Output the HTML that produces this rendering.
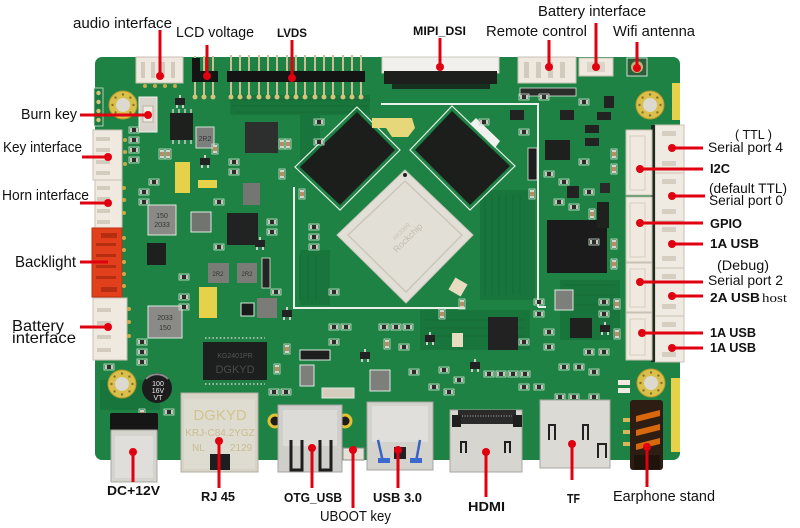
<!DOCTYPE html>
<html><head><meta charset="utf-8"><style>
html,body{margin:0;padding:0;background:#fff;}
svg{display:block;}
text{font-family:"Liberation Sans",Arial,sans-serif;fill:#111;}
.b{font-weight:bold;}
</style></head><body>
<svg width="800" height="528" viewBox="0 0 800 528" xmlns="http://www.w3.org/2000/svg">
<defs>
<g id="r"><rect x="-1" y="-1" width="10" height="6" fill="none" stroke="#cfe3d2" stroke-width="0.8"/><rect x="0" y="0" width="8" height="4" fill="#2b2d2b"/><rect x="0" y="0" width="2" height="4" fill="#c9c6bd"/><rect x="6" y="0" width="2" height="4" fill="#c9c6bd"/></g>
<g id="c"><rect x="-1" y="-1" width="6" height="10" fill="none" stroke="#cfe3d2" stroke-width="0.8"/><rect x="0" y="0" width="4" height="8" fill="#b98c66"/><rect x="0" y="0" width="4" height="2" fill="#d6d3ca"/><rect x="0" y="6" width="4" height="2" fill="#d6d3ca"/></g>
<g id="s"><rect x="0" y="0" width="10" height="7" fill="#222"/><rect x="1" y="7" width="2" height="3" fill="#ccc"/><rect x="7" y="7" width="2" height="3" fill="#ccc"/><rect x="4" y="-3" width="2" height="3" fill="#ccc"/></g>
<g id="hole"><circle r="14" fill="#d9bf4c"/><circle r="14" fill="none" stroke="#b89a2a" stroke-width="1"/><circle r="7" fill="#dcd9d0"/>
<circle cx="0" cy="-10.5" r="1.2" fill="#8a7020"/><circle cx="0" cy="10.5" r="1.2" fill="#8a7020"/><circle cx="-10.5" cy="0" r="1.2" fill="#8a7020"/><circle cx="10.5" cy="0" r="1.2" fill="#8a7020"/><circle cx="7.4" cy="7.4" r="1.2" fill="#8a7020"/><circle cx="-7.4" cy="7.4" r="1.2" fill="#8a7020"/><circle cx="7.4" cy="-7.4" r="1.2" fill="#8a7020"/><circle cx="-7.4" cy="-7.4" r="1.2" fill="#8a7020"/></g>
</defs>
<rect width="800" height="528" fill="#fff"/>

<!-- board -->
<rect x="95" y="57" width="585" height="403" rx="7" fill="#1d8244"/>
<!-- darker trace areas -->
<g fill="#18763d">
<rect x="230" y="95" width="140" height="20"/>
<rect x="480" y="190" width="55" height="110"/>
<rect x="300" y="250" width="30" height="55"/>
<rect x="420" y="310" width="110" height="40"/>
<rect x="100" y="380" width="60" height="30"/>
<rect x="300" y="115" width="20" height="60"/>
<rect x="560" y="280" width="60" height="60"/>
</g>
<g stroke="#146c37" stroke-width="1.2" fill="none">
<path d="M230 100 H370 M232 106 H368 M235 112 H365"/>
<path d="M485 195 V295 M492 195 V295 M499 195 V295 M506 195 V295 M513 195 V295 M520 195 V295"/>
<path d="M425 320 H525 M425 328 H525 M425 336 H525"/>
<path d="M300 255 V300 M308 255 V300 M316 255 V300"/>
<path d="M565 285 H615 M565 295 H615 M565 305 H615"/>
</g>

<!-- mounting holes -->
<use href="#hole" x="123" y="105"/>
<use href="#hole" x="650" y="105"/>
<use href="#hole" x="122" y="384"/>
<use href="#hole" x="651" y="383"/>

<!-- yellow strips -->
<rect x="672" y="83" width="8" height="37" fill="#e6d24a"/>
<rect x="671" y="378" width="9" height="74" fill="#e6d24a"/>

<!-- top: audio connector -->
<rect x="136" y="57" width="47" height="26" fill="#eee8de" stroke="#c9c1b3"/>
<g fill="#d2cabc"><rect x="141" y="62" width="4" height="16"/><rect x="151" y="62" width="4" height="16"/><rect x="161" y="62" width="4" height="16"/><rect x="171" y="62" width="4" height="16"/></g>
<g fill="#caa94a"><circle cx="145" cy="86" r="2"/><circle cx="155" cy="86" r="2"/><circle cx="165" cy="86" r="2"/><circle cx="175" cy="86" r="2"/></g>

<!-- LCD voltage header -->
<g stroke="#cdbf95" stroke-width="2">
<line x1="195" y1="56" x2="195" y2="97"/><line x1="204" y1="56" x2="204" y2="97"/><line x1="213" y1="56" x2="213" y2="97"/>
</g>
<rect x="192" y="71" width="26" height="11" fill="#141414"/>
<rect x="192" y="58" width="8" height="14" fill="#141414"/>
<!-- LVDS header -->
<g stroke="#cdbf95" stroke-width="2">
<line x1="231" y1="55" x2="231" y2="97"/><line x1="240" y1="55" x2="240" y2="97"/><line x1="249" y1="55" x2="249" y2="97"/><line x1="259" y1="55" x2="259" y2="97"/><line x1="268" y1="55" x2="268" y2="97"/><line x1="277" y1="55" x2="277" y2="97"/><line x1="287" y1="55" x2="287" y2="97"/><line x1="296" y1="55" x2="296" y2="97"/><line x1="305" y1="55" x2="305" y2="97"/><line x1="315" y1="55" x2="315" y2="97"/><line x1="324" y1="55" x2="324" y2="97"/><line x1="333" y1="55" x2="333" y2="97"/><line x1="343" y1="55" x2="343" y2="97"/><line x1="352" y1="55" x2="352" y2="97"/><line x1="361" y1="55" x2="361" y2="97"/>
</g>
<rect x="227" y="71" width="138" height="11" fill="#141414"/>
<g fill="#d6c27a"><circle cx="195" cy="97" r="2.5"/><circle cx="204" cy="97" r="2.5"/><circle cx="213" cy="97" r="2.5"/>
<circle cx="231" cy="97" r="2.5"/><circle cx="240" cy="97" r="2.5"/><circle cx="249" cy="97" r="2.5"/><circle cx="259" cy="97" r="2.5"/><circle cx="268" cy="97" r="2.5"/><circle cx="277" cy="97" r="2.5"/><circle cx="287" cy="97" r="2.5"/><circle cx="296" cy="97" r="2.5"/><circle cx="305" cy="97" r="2.5"/><circle cx="315" cy="97" r="2.5"/><circle cx="324" cy="97" r="2.5"/><circle cx="333" cy="97" r="2.5"/><circle cx="343" cy="97" r="2.5"/><circle cx="352" cy="97" r="2.5"/><circle cx="361" cy="97" r="2.5"/></g>

<!-- MIPI connector -->
<rect x="382" y="57" width="117" height="16" fill="#f2f0ec" stroke="#cfcac0"/>
<rect x="384" y="71" width="113" height="13" fill="#1d1f1d"/>
<rect x="392" y="84" width="98" height="5" fill="#16301f"/>
<!-- remote connector -->
<rect x="518" y="57" width="58" height="26" fill="#eee8de" stroke="#c9c1b3"/>
<g fill="#d2cabc"><rect x="524" y="62" width="5" height="16"/><rect x="536" y="62" width="5" height="16"/><rect x="548" y="62" width="5" height="16"/><rect x="560" y="62" width="5" height="16"/></g>
<rect x="520" y="88" width="56" height="8" fill="#2a2c2a" stroke="#dfe9df" stroke-width="0.8"/>
<!-- battery small -->
<rect x="579" y="58" width="34" height="18" fill="#eee8de" stroke="#c9c1b3"/>
<rect x="587" y="62" width="18" height="10" fill="#dcd4c6"/>
<!-- wifi -->
<rect x="627" y="58" width="20" height="18" fill="#2a5f3a" stroke="#cfe3d2"/>
<circle cx="637" cy="67" r="6" fill="#c4b278"/><circle cx="637" cy="67" r="2.5" fill="#555"/>

<!-- white silk lines -->
<g stroke="#e9f1ea" stroke-width="2" fill="none">
<path d="M381 104 H538 V307"/>
<path d="M294 187 V308 H465"/>
<path d="M538 307 H546"/>
</g>

<!-- RAM chips -->
<polygon points="357,107 400,150 340,210 295,167" fill="none" stroke="#e4efe6" stroke-width="1.2"/>
<polygon points="357,112 395,150 340,205 300,167" fill="#1c1e1c"/>
<polygon points="452,106 515,166 470,210 410,150" fill="none" stroke="#e4efe6" stroke-width="1.2"/>
<polygon points="452,111 510,166 470,205 415,150" fill="#1c1e1c"/>
<polygon points="476,118 500,141 495,148 470,124" fill="#f0f0ee"/>
<path d="M372 118 H412 L415 128 L408 137 H392 L386 128 H372 Z" fill="#e6d77a"/>
<!-- CPU -->
<polygon points="405,170 473,235 406,303 337,235" fill="#e2dfd6" stroke="#c9c5ba"/>
<polygon points="405,181 462,235 406,292 348,235" fill="none" stroke="#cbc6ba" stroke-width="1.5" stroke-linejoin="round"/>
<circle cx="405" cy="175" r="2" fill="#222"/>
<g transform="translate(410,240) rotate(-45)"><text x="0" y="0" text-anchor="middle" font-size="9" style="fill:#c2bdb1">Rockchip</text><text x="0" y="-10" text-anchor="middle" font-size="6" style="fill:#c8c3b8">RK3399</text></g>

<!-- left connectors -->
<rect x="93" y="130" width="29" height="50" fill="#efe9e0" stroke="#c9c1b3"/>
<g fill="#d3cbbd"><rect x="96" y="137" width="14" height="4"/><rect x="96" y="148" width="14" height="4"/><rect x="96" y="160" width="14" height="4"/><rect x="96" y="171" width="14" height="4"/></g>
<rect x="95" y="180" width="27" height="48" fill="#efe9e0" stroke="#c9c1b3"/>
<g fill="#d3cbbd"><rect x="97" y="186" width="13" height="4"/><rect x="97" y="197" width="13" height="4"/><rect x="97" y="209" width="13" height="4"/><rect x="97" y="220" width="13" height="4"/></g>
<rect x="92" y="228" width="30" height="69" fill="#e2401c" stroke="#b83010"/>
<g fill="#b52e12"><rect x="101" y="233" width="16" height="5"/><rect x="96" y="243" width="20" height="3"/><rect x="96" y="254" width="20" height="3"/><rect x="96" y="265" width="20" height="3"/><rect x="96" y="276" width="20" height="3"/><rect x="101" y="287" width="16" height="5"/></g>
<rect x="93" y="298" width="34" height="62" fill="#efe9e0" stroke="#c9c1b3"/>
<g fill="#d3cbbd"><rect x="97" y="308" width="14" height="4"/><rect x="97" y="321" width="14" height="4"/><rect x="97" y="335" width="14" height="4"/><rect x="97" y="348" width="14" height="4"/></g>
<g fill="#caa94a"><circle cx="125" cy="140" r="2"/><circle cx="125" cy="152" r="2"/><circle cx="125" cy="164" r="2"/><circle cx="124" cy="188" r="2"/><circle cx="124" cy="200" r="2"/><circle cx="124" cy="213" r="2"/><circle cx="124" cy="238" r="2"/><circle cx="124" cy="250" r="2"/><circle cx="124" cy="262" r="2"/><circle cx="124" cy="274" r="2"/><circle cx="124" cy="286" r="2"/><circle cx="129" cy="309" r="2"/><circle cx="129" cy="322" r="2"/><circle cx="129" cy="336" r="2"/></g>
<!-- small header near burn key -->
<rect x="94" y="88" width="9" height="38" fill="#1c7a40" stroke="#cfe3d2" stroke-width="0.8"/>
<g fill="#d6c27a"><circle cx="98.5" cy="93" r="2.2"/><circle cx="98.5" cy="102" r="2.2"/><circle cx="98.5" cy="111" r="2.2"/><circle cx="98.5" cy="120" r="2.2"/></g>
<!-- burn key -->
<rect x="139" y="97" width="18" height="35" fill="#d9d5cc" stroke="#efefe9"/>
<rect x="143" y="106" width="10" height="16" fill="#efe9e0" stroke="#b9b2a4"/>

<!-- right connectors -->
<rect x="655" y="125" width="29" height="237" fill="#f0ebe2" stroke="#cac2b4"/>
<g stroke="#cac2b4"><line x1="655" y1="173" x2="684" y2="173"/><line x1="655" y1="221" x2="684" y2="221"/><line x1="655" y1="268" x2="684" y2="268"/><line x1="655" y1="316" x2="684" y2="316"/></g>
<g fill="#d6cec0"><rect x="662" y="131" width="14" height="5"/><rect x="662" y="161" width="14" height="5"/><rect x="662" y="179" width="14" height="5"/><rect x="662" y="209" width="14" height="5"/><rect x="662" y="227" width="14" height="5"/><rect x="662" y="256" width="14" height="5"/><rect x="662" y="274" width="14" height="5"/><rect x="662" y="304" width="14" height="5"/><rect x="662" y="322" width="14" height="5"/><rect x="662" y="352" width="14" height="5"/></g>
<rect x="651" y="125" width="4" height="237" fill="#1e2a1e"/>
<g fill="#efe9e0" stroke="#c9c1b3">
<rect x="626" y="130" width="26" height="65"/>
<rect x="626" y="197" width="26" height="65"/>
<rect x="626" y="263" width="26" height="49"/>
<rect x="626" y="313" width="26" height="47"/>
</g>
<g fill="none" stroke="#d5cdbf"><rect x="630" y="136" width="15" height="54"/><rect x="630" y="203" width="15" height="54"/><rect x="630" y="269" width="15" height="38"/><rect x="630" y="319" width="15" height="36"/></g>

<!-- left-area chips -->
<rect x="170" y="113" width="23" height="27" fill="#1e201e"/>
<g stroke="#cfcfcf" stroke-width="1.5"><path d="M173 109v4M179 109v4M185 109v4M191 109v4M173 140v4M179 140v4M185 140v4M191 140v4"/></g>
<rect x="196" y="127" width="18" height="21" fill="#7d7f7c" stroke="#cfe3d2"/>
<text x="205" y="141" text-anchor="middle" font-size="7" style="fill:#333">2R2</text>
<rect x="245" y="122" width="33" height="31" fill="#2c2f2d"/>
<rect x="148" y="205" width="28" height="30" fill="#898a86" stroke="#dfe9df"/>
<text x="162" y="218" text-anchor="middle" font-size="7" style="fill:#333">150</text><text x="162" y="227" text-anchor="middle" font-size="7" style="fill:#333">2033</text>
<rect x="147" y="243" width="19" height="22" fill="#1e201e"/>
<rect x="191" y="212" width="20" height="20" fill="#727470" stroke="#dfe9df"/>
<rect x="227" y="213" width="31" height="32" fill="#202321"/>
<rect x="243" y="183" width="17" height="22" fill="#747672"/>
<rect x="208" y="263" width="21" height="20" fill="#7b7c78"/><text x="218" y="276" font-size="6" text-anchor="middle" style="fill:#333">2R2</text>
<rect x="237" y="263" width="20" height="20" fill="#7b7c78"/><text x="247" y="276" font-size="6" text-anchor="middle" style="fill:#333">2R2</text>
<rect x="262" y="258" width="8" height="30" fill="#232523" stroke="#dfe9df" stroke-width="0.8"/>
<rect x="148" y="306" width="34" height="32" fill="#8a8b87" stroke="#dfe9df"/>
<text x="165" y="320" text-anchor="middle" font-size="7" style="fill:#333">2033</text><text x="165" y="330" text-anchor="middle" font-size="7" style="fill:#333">150</text>
<rect x="241" y="303" width="13" height="13" fill="#1a1a1a" stroke="#dfe9df"/>
<rect x="257" y="298" width="20" height="20" fill="#7b7c78"/>
<rect x="175" y="162" width="15" height="31" fill="#e6d24a"/>
<rect x="198" y="180" width="19" height="8" fill="#e6d24a"/>
<rect x="199" y="287" width="18" height="31" fill="#e6d24a"/>
<!-- HDMI chip -->
<rect x="203" y="342" width="64" height="38" fill="#1d1f1e"/>
<g stroke="#d0d0cc" stroke-width="1.5" stroke-dasharray="1.5 2.2"><line x1="205" y1="338" x2="265" y2="338"/><line x1="205" y1="384" x2="265" y2="384"/></g>
<text x="235" y="358" text-anchor="middle" font-size="7" style="fill:#555">KG2401PR</text>
<text x="235" y="373" text-anchor="middle" font-size="11" style="fill:#4a4a4a">DGKYD</text>
<!-- electrolytic cap -->
<circle cx="157" cy="388" r="15" fill="#1c1c1c"/>
<path d="M146 379 A15 15 0 0 1 168 379" fill="none" stroke="#8a8a8a" stroke-width="2"/>
<text x="158" y="386" font-size="7" text-anchor="middle" style="fill:#eee">100</text><text x="158" y="393" font-size="7" text-anchor="middle" style="fill:#eee">16V</text><text x="158" y="400" font-size="7" text-anchor="middle" style="fill:#eee">VT</text>

<!-- center-bottom & right chips -->
<rect x="300" y="365" width="14" height="21" fill="#7d7f7b" stroke="#dfe9df"/>
<rect x="300" y="350" width="30" height="10" fill="#1e1e1e" stroke="#dfe9df"/>
<rect x="370" y="370" width="20" height="21" fill="#7d7f7b" stroke="#dfe9df"/>
<rect x="322" y="388" width="32" height="10" fill="#d4cdbd" stroke="#dfe9df"/>
<rect x="555" y="290" width="18" height="20" fill="#7d7f7b" stroke="#dfe9df"/>
<rect x="488" y="317" width="30" height="33" fill="#222"/>
<rect x="547" y="220" width="60" height="53" fill="#1a1b1a"/>
<rect x="545" y="140" width="25" height="20" fill="#1e201e"/>
<rect x="528" y="148" width="9" height="32" fill="#1e1e1e" stroke="#dfe9df" stroke-width="0.8"/>
<rect x="452" y="333" width="11" height="14" fill="#e8dcc0"/>
<rect x="451" y="280" width="14" height="14" fill="#e8dcc0" transform="rotate(30 458 287)"/>
<rect x="570" y="318" width="22" height="20" fill="#1f211f"/>
<rect x="567" y="186" width="12" height="12" fill="#222"/>
<rect x="600" y="183" width="10" height="10" fill="#2a2a2a"/>
<rect x="618" y="380" width="12" height="5" fill="#efe9e0"/><rect x="618" y="388" width="12" height="5" fill="#efe9e0"/>
<rect x="597" y="202" width="12" height="26" fill="#1f211f"/>
<rect x="604" y="96" width="10" height="12" fill="#222"/>
<rect x="510" y="110" width="14" height="10" fill="#222"/>
<rect x="560" y="110" width="14" height="10" fill="#222"/>
<rect x="585" y="125" width="14" height="8" fill="#222"/>
<rect x="585" y="138" width="14" height="8" fill="#222"/>
<rect x="597" y="112" width="14" height="8" fill="#222"/>

<!-- small parts -->
<use href="#r" x="130" y="128"/><use href="#r" x="130" y="138"/><use href="#r" x="130" y="148"/><use href="#r" x="130" y="158"/>
<use href="#r" x="140" y="190"/><use href="#r" x="140" y="200"/><use href="#r" x="150" y="180"/>
<use href="#c" x="160" y="150"/><use href="#c" x="166" y="150"/><use href="#c" x="213" y="145"/>
<use href="#r" x="230" y="160"/><use href="#r" x="230" y="170"/><use href="#r" x="215" y="200"/><use href="#r" x="215" y="245"/>
<use href="#s" x="175" y="98"/><use href="#s" x="200" y="158"/><use href="#s" x="255" y="240"/><use href="#s" x="282" y="310"/>
<use href="#r" x="138" y="340"/><use href="#r" x="138" y="350"/><use href="#r" x="138" y="360"/>
<use href="#r" x="180" y="295"/><use href="#r" x="180" y="305"/><use href="#r" x="180" y="275"/>
<use href="#c" x="280" y="140"/><use href="#c" x="286" y="140"/><use href="#c" x="280" y="170"/>
<use href="#r" x="268" y="220"/><use href="#r" x="268" y="230"/><use href="#r" x="272" y="290"/>
<use href="#r" x="310" y="225"/><use href="#r" x="310" y="235"/><use href="#r" x="310" y="245"/>
<use href="#r" x="330" y="325"/><use href="#r" x="342" y="325"/><use href="#r" x="330" y="340"/>
<use href="#s" x="360" y="352"/><use href="#s" x="425" y="335"/><use href="#s" x="470" y="362"/>
<use href="#r" x="400" y="345"/><use href="#r" x="410" y="370"/><use href="#r" x="440" y="368"/><use href="#r" x="455" y="378"/>
<use href="#r" x="485" y="372"/><use href="#r" x="497" y="372"/><use href="#r" x="509" y="372"/><use href="#r" x="521" y="372"/>
<use href="#r" x="520" y="340"/><use href="#r" x="535" y="300"/><use href="#r" x="535" y="312"/>
<use href="#r" x="556" y="395"/><use href="#r" x="570" y="395"/><use href="#r" x="590" y="395"/>
<use href="#r" x="585" y="350"/><use href="#r" x="600" y="350"/><use href="#r" x="600" y="300"/><use href="#r" x="600" y="312"/>
<use href="#c" x="612" y="150"/><use href="#c" x="612" y="165"/><use href="#c" x="612" y="240"/><use href="#c" x="612" y="260"/>
<use href="#r" x="545" y="172"/><use href="#r" x="560" y="180"/><use href="#r" x="580" y="160"/><use href="#r" x="590" y="240"/>
<use href="#r" x="480" y="120"/><use href="#r" x="520" y="95"/><use href="#r" x="540" y="95"/>
<use href="#c" x="440" y="310"/><use href="#c" x="460" y="300"/><use href="#r" x="330" y="290"/>
<!-- extra density -->
<use href="#r" x="555" y="200"/><use href="#r" x="570" y="205"/><use href="#r" x="585" y="190"/><use href="#c" x="590" y="210"/>
<use href="#r" x="545" y="330"/><use href="#r" x="545" y="345"/><use href="#r" x="560" y="365"/><use href="#r" x="575" y="365"/><use href="#r" x="590" y="370"/>
<use href="#s" x="600" y="325"/><use href="#c" x="615" y="330"/><use href="#c" x="615" y="300"/>
<use href="#r" x="430" y="385"/><use href="#r" x="445" y="390"/><use href="#r" x="520" y="385"/><use href="#r" x="535" y="385"/>
<use href="#r" x="380" y="325"/><use href="#r" x="392" y="325"/><use href="#r" x="404" y="325"/><use href="#c" x="385" y="340"/>
<use href="#r" x="270" y="390"/><use href="#r" x="282" y="390"/><use href="#c" x="275" y="365"/><use href="#c" x="285" y="345"/>
<use href="#r" x="105" y="365"/><use href="#c" x="140" y="410"/><use href="#r" x="165" y="410"/>
<use href="#r" x="315" y="120"/><use href="#r" x="315" y="140"/><use href="#c" x="300" y="190"/>
<use href="#r" x="520" y="130"/><use href="#c" x="530" y="190"/><use href="#r" x="580" y="100"/>

<!-- bottom ports -->
<!-- DC -->
<rect x="110" y="413" width="48" height="19" rx="2" fill="#161616"/>
<rect x="111" y="430" width="46" height="52" fill="#d4d3ce" stroke="#a9a8a2"/>
<rect x="115" y="436" width="38" height="42" fill="#dfdeda"/>
<!-- RJ45 -->
<rect x="181" y="393" width="77" height="79" fill="#d7d3c7" stroke="#b3afa3"/>
<rect x="184" y="399" width="71" height="70" fill="#dedbd0"/>
<text x="220" y="420" text-anchor="middle" font-size="15" style="fill:#d2c48c">DGKYD</text>
<text x="220" y="436" text-anchor="middle" font-size="10" style="fill:#c8bd92">KRJ-C84.2YGZ</text>
<text x="192" y="451" font-size="10" style="fill:#c8bd92">NL</text><text x="230" y="451" font-size="10" style="fill:#c8bd92">2129</text>
<rect x="210" y="454" width="20" height="16" fill="#1e1e1e"/>
<!-- OTG -->
<circle cx="275" cy="421" r="6" fill="#1d1d1d" stroke="#e0c232" stroke-width="3"/>
<circle cx="345" cy="421" r="6" fill="#1d1d1d" stroke="#e0c232" stroke-width="3"/>
<rect x="278" y="405" width="64" height="67" fill="#cfcecb" stroke="#a5a4a0"/>
<rect x="283" y="410" width="54" height="36" fill="#dcdbd7"/>
<path d="M291 440 V470 H302 V440" fill="none" stroke="#1e1e1e" stroke-width="3"/>
<path d="M320 440 V470 H331 V440" fill="none" stroke="#1e1e1e" stroke-width="3"/>
<rect x="343" y="448" width="21" height="12" fill="#e3e0d8" stroke="#8f8c84"/>
<!-- USB3 -->
<rect x="367" y="402" width="66" height="68" fill="#d4d2cc" stroke="#a5a4a0"/>
<rect x="372" y="406" width="56" height="36" fill="#e0dfdb"/>
<path d="M378 440 L383 462 M420 440 L416 462" stroke="#3a62c0" stroke-width="2.5" fill="none"/>
<rect x="378" y="458" width="12" height="5" fill="#3a6ad0"/><rect x="410" y="458" width="12" height="5" fill="#3a6ad0"/>
<rect x="394" y="447" width="12" height="12" fill="#222"/>
<!-- HDMI -->
<rect x="450" y="410" width="72" height="62" fill="#d7d5cf" stroke="#a8a6a0"/>
<rect x="458" y="410" width="58" height="14" fill="#2a2a2a"/>
<g stroke="#bbb" stroke-width="1" stroke-dasharray="1 1.6"><line x1="462" y1="416" x2="512" y2="416"/></g>
<rect x="452" y="415" width="9" height="12" fill="#1e1e1e"/><rect x="513" y="415" width="9" height="12" fill="#1e1e1e"/>
<path d="M461 453 V442 H466 V453" fill="none" stroke="#1e1e1e" stroke-width="2"/>
<path d="M505 453 V442 H510 V453" fill="none" stroke="#1e1e1e" stroke-width="2"/>
<!-- TF -->
<rect x="540" y="400" width="70" height="68" fill="#dcdad4" stroke="#a8a6a0"/>
<path d="M549 440 V425 H555 V440" fill="none" stroke="#222" stroke-width="2"/>
<path d="M583 440 V425 H588 V440" fill="none" stroke="#222" stroke-width="2"/>
<path d="M598 458 V444 H606 V458" fill="none" stroke="#222" stroke-width="2"/>
<!-- earphone -->
<g fill="#d6b658"><rect x="623" y="418" width="9" height="4"/><rect x="623" y="430" width="9" height="4"/><rect x="623" y="442" width="9" height="4"/></g>
<rect x="630" y="400" width="33" height="70" rx="3" fill="#2d1d12"/>
<g fill="#d8680e"><polygon points="636,416 660,410 660,416 636,422"/><polygon points="636,430 660,424 660,430 636,436"/><polygon points="636,444 660,438 660,444 636,450"/></g>
<rect x="634" y="455" width="26" height="14" fill="#1e140c"/>

<!-- red callouts -->
<g stroke="#e00010" stroke-width="3" fill="none">
<line x1="160" y1="30" x2="160" y2="76"/>
<line x1="207" y1="45" x2="207" y2="76"/>
<line x1="292" y1="40" x2="292" y2="78"/>
<line x1="440" y1="38" x2="440" y2="67"/>
<line x1="549" y1="40" x2="549" y2="67"/>
<line x1="596" y1="23" x2="596" y2="67"/>
<line x1="637" y1="42" x2="637" y2="68"/>
<line x1="80" y1="115" x2="148" y2="115"/>
<line x1="82" y1="157" x2="108" y2="157"/>
<line x1="80" y1="203" x2="108" y2="203"/>
<line x1="80" y1="262" x2="108" y2="262"/>
<line x1="80" y1="327" x2="108" y2="327"/>
<line x1="672" y1="148" x2="703" y2="148"/>
<line x1="640" y1="169" x2="703" y2="169"/>
<line x1="672" y1="196" x2="705" y2="196"/>
<line x1="640" y1="223" x2="703" y2="223"/>
<line x1="672" y1="244" x2="703" y2="244"/>
<line x1="640" y1="282" x2="703" y2="282"/>
<line x1="672" y1="296" x2="703" y2="296"/>
<line x1="642" y1="333" x2="703" y2="333"/>
<line x1="672" y1="348" x2="703" y2="348"/>
<line x1="133" y1="452" x2="133" y2="482"/>
<line x1="219" y1="441" x2="219" y2="488"/>
<line x1="312" y1="448" x2="312" y2="488"/>
<line x1="353" y1="450" x2="353" y2="508"/>
<line x1="398" y1="450" x2="398" y2="488"/>
<line x1="486" y1="452" x2="486" y2="497"/>
<line x1="572" y1="444" x2="572" y2="480"/>
<line x1="647" y1="447" x2="647" y2="487"/>
</g>
<g fill="#e00010">
<circle cx="160" cy="76" r="4"/><circle cx="207" cy="76" r="4"/><circle cx="292" cy="78" r="4"/>
<circle cx="440" cy="67" r="4"/><circle cx="549" cy="67" r="4"/><circle cx="596" cy="67" r="4"/><circle cx="637" cy="68" r="4"/>
<circle cx="148" cy="115" r="4"/><circle cx="108" cy="157" r="4"/><circle cx="108" cy="203" r="4"/><circle cx="108" cy="327" r="4"/>
<circle cx="672" cy="148" r="4"/><circle cx="640" cy="169" r="4"/><circle cx="672" cy="196" r="4"/><circle cx="640" cy="223" r="4"/>
<circle cx="672" cy="244" r="4"/><circle cx="640" cy="282" r="4"/><circle cx="672" cy="296" r="4"/><circle cx="642" cy="333" r="4"/><circle cx="672" cy="348" r="4"/>
<circle cx="133" cy="452" r="4"/><circle cx="219" cy="441" r="4"/><circle cx="312" cy="448" r="4"/><circle cx="353" cy="450" r="4"/>
<circle cx="398" cy="450" r="4"/><circle cx="486" cy="452" r="4"/><circle cx="572" cy="444" r="4"/><circle cx="647" cy="447" r="4"/>
</g>

<!-- labels -->
<text x="73" y="28" font-size="15" textLength="99" lengthAdjust="spacingAndGlyphs">audio interface</text>
<text x="176" y="37" font-size="15" textLength="78" lengthAdjust="spacingAndGlyphs">LCD voltage</text>
<text x="277" y="37" font-size="12" class="b" textLength="30" lengthAdjust="spacingAndGlyphs">LVDS</text>
<text x="413" y="35" font-size="12" class="b" textLength="53" lengthAdjust="spacingAndGlyphs">MIPI_DSI</text>
<text x="486" y="36" font-size="15" textLength="101" lengthAdjust="spacingAndGlyphs">Remote control</text>
<text x="538" y="16" font-size="15" textLength="108" lengthAdjust="spacingAndGlyphs">Battery interface</text>
<text x="613" y="36" font-size="15" textLength="82" lengthAdjust="spacingAndGlyphs">Wifi antenna</text>
<text x="21" y="119" font-size="15" textLength="56" lengthAdjust="spacingAndGlyphs">Burn key</text>
<text x="3" y="152" font-size="15" textLength="79" lengthAdjust="spacingAndGlyphs">Key interface</text>
<text x="2" y="200" font-size="15" textLength="87" lengthAdjust="spacingAndGlyphs">Horn interface</text>
<text x="15" y="267" font-size="16" textLength="61" lengthAdjust="spacingAndGlyphs">Backlight</text>
<text x="12" y="331" font-size="16" textLength="52" lengthAdjust="spacingAndGlyphs">Battery</text>
<text x="12" y="343" font-size="16" textLength="64" lengthAdjust="spacingAndGlyphs">interface</text>
<text x="735" y="139" font-size="13" textLength="37" lengthAdjust="spacingAndGlyphs">( TTL )</text>
<text x="708" y="152" font-size="14" textLength="75" lengthAdjust="spacingAndGlyphs">Serial port 4</text>
<text x="710" y="173" font-size="13" class="b" textLength="20" lengthAdjust="spacingAndGlyphs">I2C</text>
<text x="709" y="193" font-size="14" textLength="78" lengthAdjust="spacingAndGlyphs">(default TTL)</text>
<text x="709" y="205" font-size="14" textLength="74" lengthAdjust="spacingAndGlyphs">Serial port 0</text>
<text x="710" y="228" font-size="13" class="b" textLength="32" lengthAdjust="spacingAndGlyphs">GPIO</text>
<text x="710" y="248" font-size="13" class="b" textLength="49" lengthAdjust="spacingAndGlyphs">1A  USB</text>
<text x="717" y="270" font-size="14" textLength="52" lengthAdjust="spacingAndGlyphs">(Debug)</text>
<text x="708" y="285" font-size="14" textLength="75" lengthAdjust="spacingAndGlyphs">Serial port 2</text>
<text x="710" y="302" font-size="13" class="b" textLength="50" lengthAdjust="spacingAndGlyphs">2A USB</text>
<text x="762" y="302" font-size="13" style="font-family:'Liberation Serif',serif" textLength="25" lengthAdjust="spacingAndGlyphs">host</text>
<text x="710" y="337" font-size="13" class="b" textLength="46" lengthAdjust="spacingAndGlyphs">1A USB</text>
<text x="710" y="352" font-size="13" class="b" textLength="46" lengthAdjust="spacingAndGlyphs">1A USB</text>
<text x="107" y="495" font-size="13" class="b" textLength="53" lengthAdjust="spacingAndGlyphs">DC+12V</text>
<text x="201" y="501" font-size="13" class="b" textLength="34" lengthAdjust="spacingAndGlyphs">RJ 45</text>
<text x="284" y="502" font-size="13" class="b" textLength="58" lengthAdjust="spacingAndGlyphs">OTG_USB</text>
<text x="320" y="521" font-size="15" textLength="71" lengthAdjust="spacingAndGlyphs">UBOOT key</text>
<text x="373" y="502" font-size="13" class="b" textLength="49" lengthAdjust="spacingAndGlyphs">USB 3.0</text>
<text x="468" y="511" font-size="13" class="b" textLength="37" lengthAdjust="spacingAndGlyphs">HDMI</text>
<text x="567" y="503" font-size="13" class="b" textLength="13" lengthAdjust="spacingAndGlyphs">TF</text>
<text x="613" y="501" font-size="15" textLength="102" lengthAdjust="spacingAndGlyphs">Earphone stand</text>
</svg>
</body></html>
